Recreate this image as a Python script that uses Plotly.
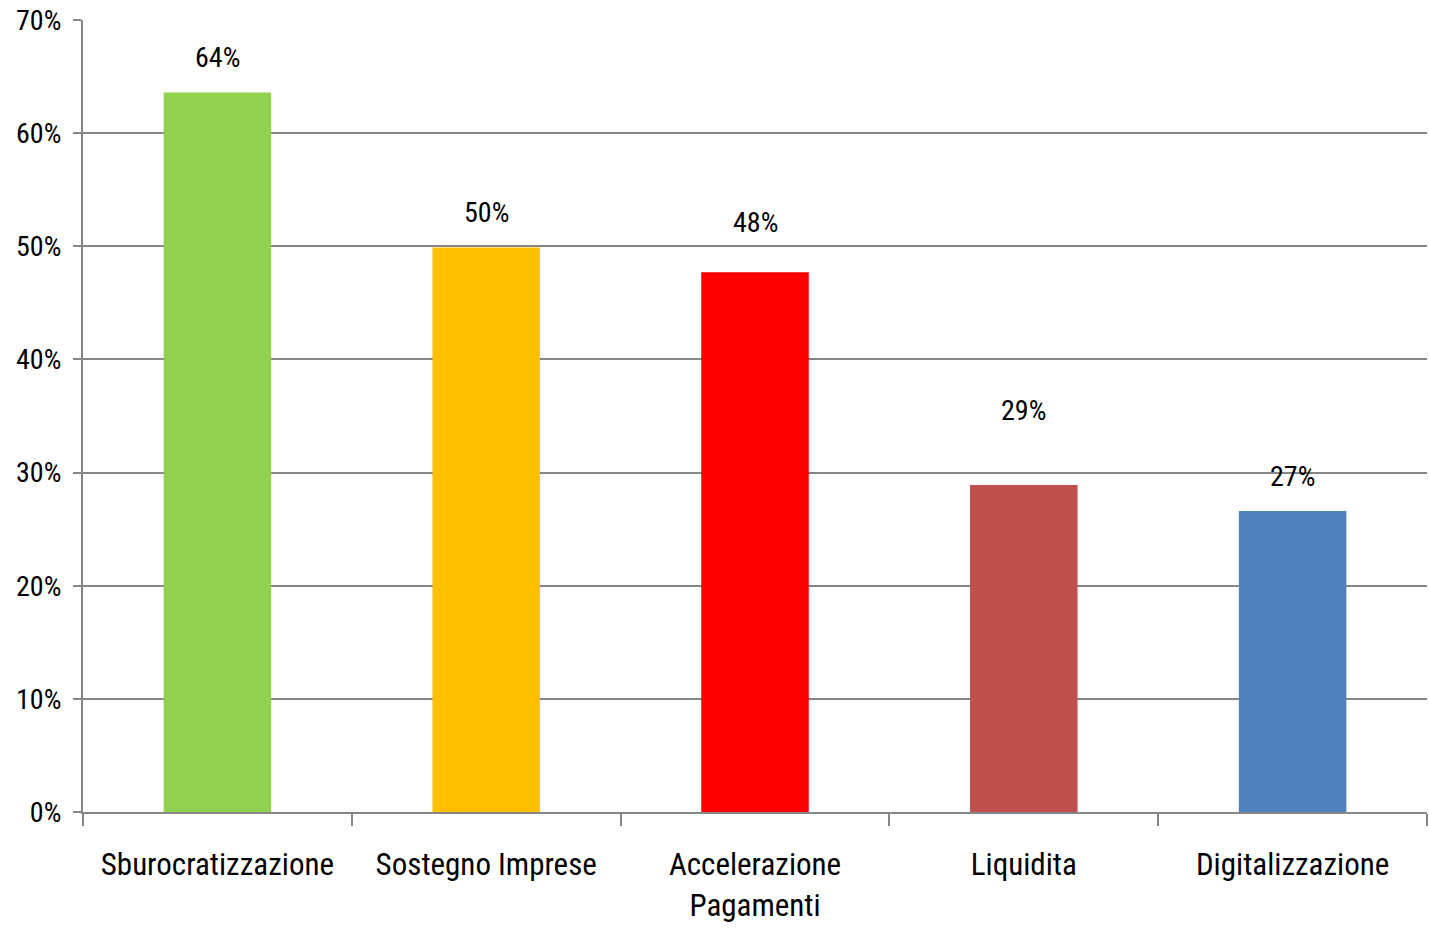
import plotly.graph_objects as go

categories = ["Sburocratizzazione", "Sostegno Imprese", "Accelerazione<br>Pagamenti", "Liquidita", "Digitalizzazione"]
values = [0.636, 0.499, 0.477, 0.289, 0.266]
labels = ["64%", "50%", "48%", "29%", "27%"]
colors = ["#92D050", "#FFC000", "#FF0000", "#C0504D", "#4F81BD"]
label_offsets_px = [35, 35, 50, 75, 35]

FONT = "Roboto Condensed, Liberation Sans Narrow, sans-serif"

fig = go.Figure()
fig.add_trace(go.Bar(x=categories, y=values, marker=dict(color=colors, line=dict(width=0)),
                     width=0.4, hoverinfo="skip"))

for c, v, t, off in zip(categories, values, labels, label_offsets_px):
    fig.add_annotation(x=c, y=v, text=t, showarrow=False, yshift=off,
                       font=dict(family=FONT, size=28, color="#000000"))

fig.update_layout(
    width=1429, height=933,
    margin=dict(l=83, r=2, t=20, b=121),
    paper_bgcolor="white", plot_bgcolor="white",
    showlegend=False,
    font=dict(family=FONT, size=28, color="#000000"),
)
fig.update_xaxes(
    showline=True, linecolor="#868686", linewidth=2,
    ticks="outside", ticklen=12, tickcolor="#868686", tickwidth=2,
    tickson="boundaries", showgrid=False,
    tickfont=dict(family=FONT, size=31),
    ticklabelstandoff=24,
)
fig.update_yaxes(
    range=[0, 0.7], dtick=0.1, tickformat=".0%",
    showline=True, linecolor="#868686", linewidth=2,
    ticks="outside", ticklen=8, tickcolor="#868686", tickwidth=2,
    showgrid=True, gridcolor="#868686", gridwidth=2,
    zeroline=False,
    tickfont=dict(family=FONT, size=28),
    ticklabelstandoff=6,
)
fig.write_html("out.html", config={"displayModeBar": False},
               post_script="document.body.style.margin='0';")
